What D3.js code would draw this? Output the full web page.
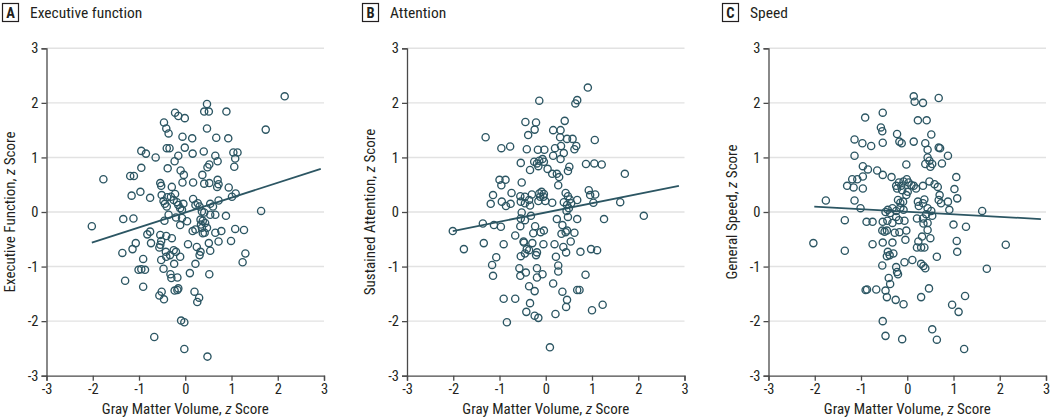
<!DOCTYPE html>
<html>
<head>
<meta charset="utf-8">
<script src="https://cdn.jsdelivr.net/npm/d3@7"></script>
<style>
  html, body { margin: 0; padding: 0; background: #fff; }
  svg { display: block; font-family: "Liberation Sans Narrow", "Roboto Condensed", "Open Sans", sans-serif; }
</style>
</head>
<body>
<svg id="chart" width="1050" height="420"></svg>
<script>
// ---- data ----
const panelLetters = ["A", "B", "C"];
const panelTitles = ["Executive function", "Attention", "Speed"];
const yLabelTexts = ["Executive Function, ", "Sustained Attention, ", "General Speed, "];
const xLabelText = "Gray Matter Volume, ";
const xTicks = [-3, -2, -1, 0, 1, 2, 3];
const yTicks = [-3, -2, -1, 0, 1, 2, 3];

const pointsA = [
[2.15,2.12],[0.47,1.98],[0.41,1.84],[0.51,1.84],[0.89,1.84],[-0.22,1.82],[-0.15,1.76],[-0.01,1.72],
[-0.46,1.64],[-0.41,1.53],[-0.36,1.44],[0.47,1.53],[1.74,1.51],[-0.06,1.38],[0.15,1.35],[0.67,1.36],[0.93,1.35],
[-0.95,1.12],[-0.85,1.07],[-0.64,1.00],[-0.40,1.17],[-0.34,1.17],[-0.01,1.18],[0.16,1.07],[0.40,1.11],
[-0.15,1.03],[-0.23,0.93],[0.65,1.03],[0.70,0.93],[1.04,1.09],[1.13,1.09],[1.08,0.98],[1.06,0.83],
[-0.95,0.81],[-0.38,0.80],[0.52,0.87],[0.48,0.82],[-1.77,0.60],[-1.19,0.66],[-1.11,0.66],[-0.10,0.76],[-0.03,0.68],[0.37,0.68],
[-0.54,0.53],[-0.52,0.48],[-0.29,0.46],[-0.06,0.54],[0.17,0.54],[0.41,0.52],[0.52,0.53],[0.70,0.59],[0.72,0.51],[0.69,0.46],[0.94,0.45],
[1.09,0.34],[1.01,0.28],[-1.16,0.30],[-0.97,0.37],[-0.76,0.26],
[-0.51,0.31],[-0.39,0.27],[-0.44,0.15],[-0.31,0.28],[-0.22,0.33],[-0.47,0.20],[-0.40,0.10],[-0.25,0.22],
[-0.18,0.18],[-0.15,0.13],[-0.11,0.07],[-0.07,0.04],[-0.04,0.15],
[0.17,0.24],[0.22,0.13],[0.27,0.16],[0.31,0.10],[0.36,0.01],[0.54,0.15],[0.60,0.10],[0.72,0.21],
[1.64,0.02],
[-2.02,-0.26],[-1.34,-0.13],[-1.12,-0.12],[-0.45,-0.16],[-0.36,-0.05],[-0.20,-0.10],[-0.11,-0.24],[-0.07,-0.11],[0.04,-0.17],
[0.41,-0.01],[0.54,-0.05],[0.88,-0.07],[0.65,-0.05],
[0.33,-0.14],[0.38,-0.16],[0.34,-0.23],[0.36,-0.29],[0.43,-0.20],[0.47,-0.29],
[0.16,-0.35],[0.22,-0.32],[0.38,-0.39],[0.42,-0.38],[0.65,-0.38],[0.78,-0.35],[1.08,-0.31],[1.27,-0.33],
[-0.82,-0.41],[-0.76,-0.36],[-0.54,-0.42],[-0.41,-0.44],[-0.29,-0.48],
[-1.07,-0.57],[-0.74,-0.57],[-0.52,-0.53],[-0.54,-0.60],[-0.56,-0.65],
[0.72,-0.54],[0.99,-0.53],[0.51,-0.57],[0.06,-0.59],[0.25,-0.64],
[-1.36,-0.75],[-1.14,-0.68],
[-0.42,-0.73],[-0.25,-0.70],[-0.20,-0.73],[-0.33,-0.79],[-0.41,-0.82],[-0.11,-0.82],
[0.33,-0.73],[0.31,-0.79],[0.54,-0.71],[1.30,-0.76],[1.24,-0.92],
[-0.91,-0.86],[-0.52,-0.88],[-0.24,-0.95],[0.22,-0.95],
[-1.01,-1.06],[-0.95,-1.05],[-0.87,-1.06],[-0.47,-1.04],[0.10,-1.12],[0.52,-1.14],
[-0.32,-1.14],[-0.30,-1.21],[-0.17,-1.20],
[-1.30,-1.26],[-0.91,-1.37],
[-0.51,-1.46],[-0.56,-1.53],[-0.46,-1.60],[-0.23,-1.44],[-0.15,-1.40],[-0.17,-1.43],
[0.20,-1.46],[0.30,-1.57],[0.26,-1.65],
[-0.09,-1.99],[-0.02,-2.02],[-0.67,-2.29],[-0.02,-2.51],[0.48,-2.65]
];

const pointsB = [
[0.91,2.28],[-0.14,2.04],[0.68,2.05],[0.64,1.99],
[-0.44,1.65],[-0.21,1.64],[-0.24,1.51],[0.41,1.67],[0.16,1.50],[0.32,1.50],
[-0.38,1.41],[0.31,1.37],[0.46,1.34],[0.58,1.34],[1.06,1.32],[-1.30,1.37],
[-0.96,1.17],[-0.77,1.20],[-0.41,1.15],[-0.17,1.14],[-0.03,1.14],
[0.20,1.17],[0.33,1.21],[0.39,1.08],[0.66,1.21],[0.62,1.15],[0.16,1.03],[0.32,0.97],
[-0.54,0.90],[-0.25,0.92],[-0.19,0.89],[-0.14,0.94],[-0.07,0.97],[-0.04,0.92],[-0.16,0.84],
[-0.34,0.77],[0.04,0.79],[0.51,0.83],[0.48,0.75],[0.87,0.88],[1.05,0.89],[1.21,0.87],
[0.14,0.70],[0.24,0.70],[0.29,0.64],[1.71,0.70],
[-1.00,0.59],[-0.87,0.59],[-0.96,0.49],[-0.52,0.54],[0.27,0.49],
[-1.14,0.31],[-1.19,0.15],[-0.74,0.35],[-0.95,0.19],[-0.76,0.15],[-0.86,0.11],
[-0.55,0.29],[-0.45,0.28],[-0.54,0.19],[-0.45,0.16],[-0.36,0.22],[-0.30,0.32],[-0.34,0.12],
[-0.14,0.34],[-0.09,0.37],[-0.04,0.33],[-0.12,0.28],[-0.05,0.28],
[-0.16,0.20],[-0.01,0.20],[0.14,0.17],
[0.43,0.35],[0.48,0.29],[0.52,0.23],[0.39,0.18],[0.46,0.13],[0.55,0.16],[0.68,0.22],[0.50,0.07],
[0.93,0.40],[0.96,0.31],[1.07,0.32],[1.03,0.17],[1.61,0.18],
[-0.52,-0.01],[2.12,-0.07],
[-2.01,-0.35],[-1.36,-0.21],[-1.12,-0.24],[-0.97,-0.27],
[-0.54,-0.12],[-0.45,-0.15],[-0.32,-0.07],[-0.55,-0.26],[-0.66,-0.43],
[-0.23,-0.26],[-0.27,-0.39],[-0.11,-0.37],[-0.04,-0.34],[-0.05,-0.59],
[0.24,-0.13],[0.45,0.02],[0.48,-0.09],[0.68,-0.13],
[0.36,-0.24],[0.34,-0.40],[0.43,-0.37],[0.46,-0.34],[0.62,-0.38],[1.26,-0.13],
[-1.34,-0.57],[-1.77,-0.68],[-0.91,-0.59],
[-0.48,-0.54],[-0.47,-0.56],[-0.29,-0.57],[-0.41,-0.68],[-0.36,-0.70],[-0.45,-0.76],[-0.54,-0.81],[-0.19,-0.74],[-0.21,-0.79],
[0.19,-0.59],[0.38,-0.64],[0.54,-0.54],[0.44,-0.74],[0.22,-0.82],[0.75,-0.73],[0.98,-0.68],[1.11,-0.70],
[-1.07,-0.83],[-1.16,-0.97],[-1.14,-1.17],
[-0.57,-1.03],[-0.55,-1.17],[-0.43,-1.11],[-0.19,-1.03],[-0.19,-1.20],[-0.07,-1.14],
[0.27,-0.98],[0.27,-1.09],[0.86,-1.15],[0.16,-1.31],
[-0.36,-1.36],[-0.24,-1.45],[0.36,-1.46],[0.68,-1.43],[0.73,-1.43],
[-0.91,-1.59],[-0.66,-1.59],[0.46,-1.61],[0.44,-1.74],
[-0.34,-1.67],[-0.42,-1.83],[-0.24,-1.90],[-0.16,-1.94],[0.21,-1.87],[1.00,-1.80],[1.23,-1.70],
[-0.84,-2.02],[0.09,-2.48]
];

const pointsC = [
[0.14,2.12],[0.16,2.02],[0.34,2.00],[0.68,2.09],[-0.53,1.82],[-0.91,1.73],[0.23,1.68],[0.42,1.68],
[-0.57,1.55],[-0.54,1.48],[-0.22,1.43],[0.52,1.42],[-1.14,1.33],[-0.97,1.26],[-0.78,1.21],[-0.53,1.27],
[-0.17,1.29],[-0.12,1.26],[0.14,1.29],[0.39,1.26],[0.68,1.18],[0.71,1.17],[0.44,1.14],
[-1.14,1.03],[0.88,1.03],[0.44,1.00],[0.48,0.94],[0.39,0.88],[0.54,0.88],[0.50,0.83],[0.75,0.89],[-0.02,0.87],
[-0.96,0.84],[-0.85,0.78],[-0.65,0.76],[-0.53,0.68],[-0.34,0.64],[1.06,0.64],
[-1.19,0.60],[-1.08,0.60],[-0.96,0.65],[-1.30,0.48],[-1.16,0.45],[-0.96,0.43],
[-0.24,0.48],[-0.18,0.54],[-0.13,0.48],[-0.08,0.56],[-0.01,0.60],[0.03,0.54],[0.09,0.49],[-0.22,0.43],[-0.11,0.40],
[0.14,0.48],[0.19,0.43],[0.34,0.48],[0.48,0.56],[0.59,0.51],[0.66,0.46],[1.02,0.42],
[-0.02,0.31],[0.01,0.37],[0.70,0.31],[0.68,0.22],[0.73,0.16],[1.08,0.25],[0.88,0.19],
[-1.76,0.21],[-1.14,0.21],[-0.20,0.22],[-0.15,0.17],[-0.09,0.19],
[0.23,0.19],[0.34,0.16],[0.25,0.11],[0.37,0.23],
[-1.01,0.07],[-0.42,0.04],[-0.32,0.07],[-0.24,0.02],[-0.08,0.04],[0.44,0.07],[0.52,0.02],[0.91,0.04],[1.62,0.02],
[-0.47,0.00],[-0.37,-0.02],[-0.15,0.08],
[-1.35,-0.15],[-0.88,-0.18],[-0.75,-0.18],
[-0.53,-0.18],[-0.43,-0.16],[-0.32,-0.20],[-0.24,-0.09],[-0.18,-0.15],[-0.06,-0.16],
[0.21,-0.12],[0.34,-0.12],[0.41,-0.04],[0.35,-0.21],[0.44,-0.20],[0.54,-0.07],
[1.00,-0.23],[1.27,-0.27],
[-0.54,-0.34],[-0.49,-0.36],[-0.44,-0.34],[-0.27,-0.38],[-0.17,-0.37],[-0.02,-0.34],
[0.44,-0.33],[0.50,-0.48],[0.32,-0.45],
[-2.03,-0.57],[-1.35,-0.71],[-0.75,-0.59],[-0.53,-0.56],[-0.32,-0.56],[-0.04,-0.51],
[0.24,-0.54],[0.21,-0.65],[0.30,-0.65],[0.37,-0.65],[1.07,-0.53],[1.08,-0.73],[2.13,-0.60],
[-0.42,-0.73],[-0.38,-0.79],[-0.30,-0.76],[-0.44,-0.81],[0.64,-0.82],
[-0.06,-0.92],[0.11,-0.88],[-0.54,-0.98],[-0.24,-1.01],[-0.20,-1.14],[-0.22,-1.10],
[0.30,-0.95],[0.35,-0.99],[0.39,-1.03],[1.72,-1.04],
[-0.40,-1.21],[-0.37,-1.32],[-0.90,-1.43],[-0.87,-1.42],[-0.67,-1.42],[-0.47,-1.44],[-0.44,-1.56],
[-0.25,-1.61],[-0.08,-1.69],[0.30,-1.56],[0.47,-1.40],[1.25,-1.54],[0.97,-1.70],[1.11,-1.83],
[-0.53,-2.00],[-0.47,-2.27],[-0.11,-2.33],[0.54,-2.15],[0.64,-2.34],[1.23,-2.51]
];

// fitted regression lines: [x, y] endpoints
const fitA = [[-2.02, -0.56], [2.93, 0.79]];
const fitB = [[-2.01, -0.35], [2.88, 0.48]];
const fitC = [[-2.01, 0.10], [2.89, -0.13]];

const pointSets = [pointsA, pointsB, pointsC];
const fitSets = [fitA, fitB, fitC];

// ---- layout ----
const svg = d3.select("#chart");
const panelLeft = [46.5, 407, 768.5];
const plotW = 277.5;
const plotTop = 48.3, plotBottom = 375.7;
const headerX = [2, 362, 722];
const ink = "#2c5663";
const textColor = "#231f20";

panelLetters.forEach((letter, i) => {
  const x = d3.scaleLinear().domain([-3, 3]).range([panelLeft[i], panelLeft[i] + plotW]);
  const y = d3.scaleLinear().domain([-3, 3]).range([plotBottom, plotTop]);
  const g = svg.append("g");

  // header
  const hx = headerX[i];
  g.append("rect").attr("x", hx + 0.5).attr("y", 3.5).attr("width", 16).attr("height", 18)
    .attr("fill", "#fff").attr("stroke", textColor).attr("stroke-width", 1.2);
  g.append("text").attr("x", hx + 8.5).attr("y", 18).attr("text-anchor", "middle")
    .attr("font-size", 14.5).attr("font-weight", "bold").attr("fill", textColor).text(letter);
  g.append("text").attr("x", hx + 28).attr("y", 18)
    .attr("font-size", 15.5).attr("fill", textColor).text(panelTitles[i]);

  // gridlines
  g.append("g").selectAll("line").data(yTicks.filter(t => t > -3)).join("line")
    .attr("x1", x(-3)).attr("x2", x(3))
    .attr("y1", d => y(d)).attr("y2", d => y(d))
    .attr("stroke", "#e2e2e2").attr("stroke-width", 1.4);

  // axes
  const yAxis = d3.axisLeft(y).tickValues(yTicks).tickSize(5).tickPadding(3).tickFormat(d3.format("d"));
  const xAxis = d3.axisBottom(x).tickValues(xTicks).tickSize(5).tickPadding(3).tickFormat(d3.format("d"));
  const ya = g.append("g").attr("transform", `translate(${x(-3)},0)`).call(yAxis);
  const xa = g.append("g").attr("transform", `translate(0,${y(-3)})`).call(xAxis);
  [ya, xa].forEach(a => {
    a.select(".domain").attr("stroke", "#4a4a4a").attr("stroke-width", 1.3);
    a.selectAll(".tick line").attr("stroke", "#4a4a4a").attr("stroke-width", 1.3);
    a.selectAll(".tick text").attr("font-size", 14.5).attr("fill", textColor)
      .attr("font-family", "'Liberation Sans Narrow', 'Roboto Condensed', sans-serif")
      .text(d => d < 0 ? "-" + Math.abs(d) : d);
  });

  // axis labels
  const xl = g.append("text").attr("x", x(0)).attr("y", 414).attr("text-anchor", "middle")
    .attr("font-size", 15).attr("fill", textColor);
  xl.append("tspan").text(xLabelText);
  xl.append("tspan").attr("font-style", "italic").text("z");
  xl.append("tspan").text(" Score");

  const yl = g.append("text")
    .attr("transform", `translate(${panelLeft[i] - 32},${y(0)}) rotate(-90)`)
    .attr("text-anchor", "middle").attr("font-size", 15).attr("fill", textColor);
  yl.append("tspan").text(yLabelTexts[i]);
  yl.append("tspan").attr("font-style", "italic").text("z");
  yl.append("tspan").text(" Score");

  // points
  g.append("g").selectAll("circle").data(pointSets[i]).join("circle")
    .attr("cx", d => x(d[0])).attr("cy", d => y(d[1])).attr("r", 3.6)
    .attr("fill", "none").attr("stroke", ink).attr("stroke-width", 1.35);

  // regression line
  g.append("path").datum(fitSets[i])
    .attr("d", d3.line().x(d => x(d[0])).y(d => y(d[1])))
    .attr("fill", "none").attr("stroke", ink).attr("stroke-width", 1.8);
});
</script>
</body>
</html>
